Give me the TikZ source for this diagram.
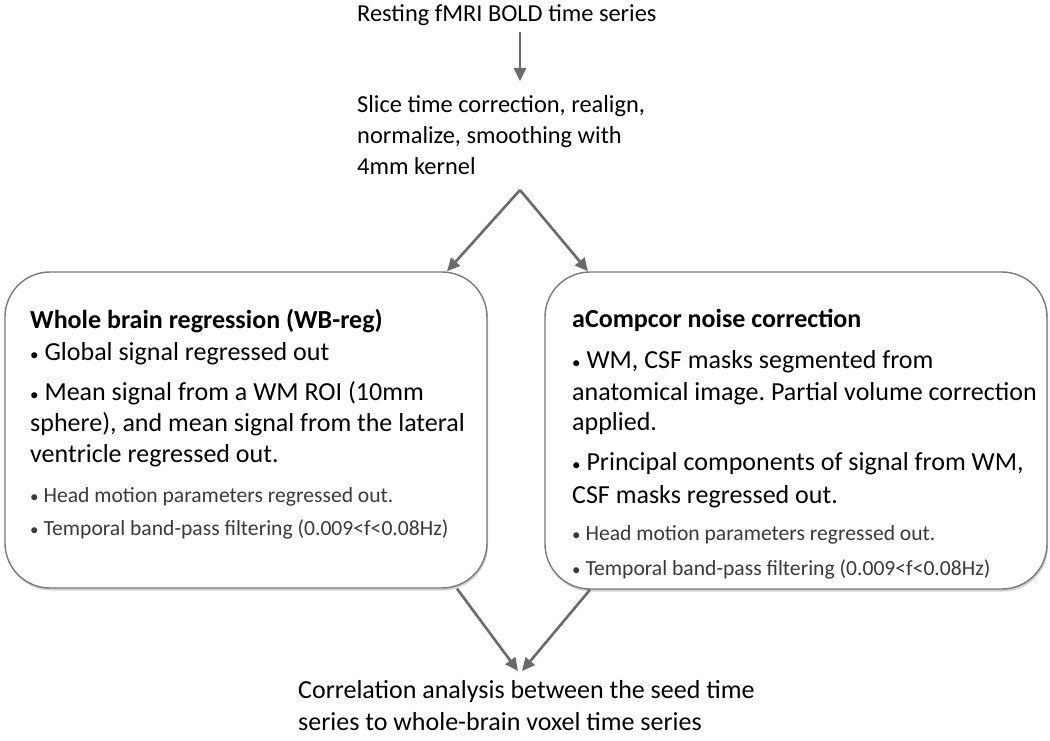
\documentclass[tikz,border=0pt]{standalone}
\usepackage{fontspec}
\setmainfont{Carlito}
\usetikzlibrary{arrows.meta,shadows}
\frenchspacing
\definecolor{arrgray}{HTML}{6B6B6B}
\definecolor{boxgray}{HTML}{7A7A7A}
\definecolor{smallgray}{HTML}{3A3A3A}
\newcommand{\bul}{{\fontsize{17}{17}\selectfont•}}
\tikzset{
  arr/.style={draw=arrgray, line width=2.6pt, -{Triangle[length=13pt,width=12pt]}},
  panel/.style={draw=boxgray, line width=1.4pt, fill=white, rounded corners=45pt,
     drop shadow={opacity=0.35, shadow xshift=1pt, shadow yshift=-2.5pt, fill=gray}},
  top/.style={anchor=base west, inner sep=0pt, font=\fontsize{24.4}{30}\selectfont\frenchspacing},
  big/.style={anchor=base west, inner sep=0pt, font=\fontsize{26}{31}\selectfont\frenchspacing},
  bigb/.style={big, font=\fontsize{26}{31}\selectfont\bfseries},
  small/.style={anchor=base west, inner sep=0pt, text=smallgray, font=\fontsize{21.6}{26}\selectfont\frenchspacing},
}
\begin{document}
\begin{tikzpicture}[x=1pt,y=-1pt]
\useasboundingbox[fill=white] (0,0) rectangle (1050,741);

% top texts
\node[top] (rest) at (357,22) {Resting fMRI BOLD time series};
\node[top] (prep1) at (357,113) {Slice time correction, realign,};
\node[top] (prep2) at (357,144) {normalize, smoothing with};
\node[top] (prep3) at (357,175) {4mm kernel};

\coordinate (restout) at (520,32);
\coordinate (prepin) at (520,81);
\coordinate (apex) at (520,190);
\draw[arr] (restout) -- (prepin);

% boxes
\node[panel, minimum width=482pt, minimum height=316pt, inner sep=0pt] (wb) at (246,430) {};
\node[panel, minimum width=502pt, minimum height=317pt, inner sep=0pt] (ac) at (796,430.5) {};

\draw[arr] (apex) -- (wb.north -| 447,0);
\draw[arr] (apex) -- (ac.north -| 588,0);

% left box text
\node[bigb] (wbt) at (30,328) {Whole brain regression (WB-reg)};
\node[big] (wb1) at (30,360) {\bul{} Global signal regressed out};
\node[big] (wb2a) at (30,400) {\bul{} Mean signal from a WM ROI (10mm};
\node[big] (wb2b) at (30,431) {sphere), and mean signal from the lateral};
\node[big] (wb2c) at (30,462) {ventricle regressed out.};
\node[small] (wb3) at (30,502) {\bul{} Head motion parameters regressed out.};
\node[small] (wb4) at (30,535) {\bul{} Temporal band-pass filtering (0.009<f<0.08Hz)};

% right box text
\node[bigb] (act) at (572,327) {aCompcor noise correction};
\node[big] (ac1a) at (572,368) {\bul{} WM, CSF masks segmented from};
\node[big] (ac1b) at (572,400) {anatomical image. Partial volume correction};
\node[big] (ac1c) at (572,430) {applied.};
\node[big] (ac2a) at (572,470) {\bul{} Principal components of signal from WM,};
\node[big] (ac2b) at (572,503) {CSF masks regressed out.};
\node[small] (ac3) at (572,540) {\bul{} Head motion parameters regressed out.};
\node[small] (ac4) at (572,575) {\bul{} Temporal band-pass filtering (0.009<f<0.08Hz)};

% bottom
\coordinate (tipL) at (518,671);
\coordinate (tipR) at (522,671);
\draw[arr] (wb.south -| 457,0) -- (tipL);
\draw[arr] (ac.south -| 590,0) -- (tipR);

\node[big] (corr1) at (298,698) {Correlation analysis between the seed time};
\node[big] (corr2) at (298,730) {series to whole-brain voxel time series};
\end{tikzpicture}
\end{document}
